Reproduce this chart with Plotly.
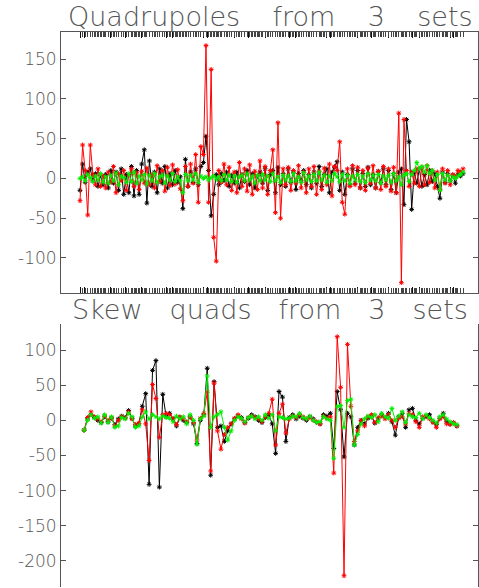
import plotly.graph_objects as go

# ---------------- data: Quadrupoles (top panel) ----------------
quad_black = [
    -15, 18, -5, 8, 12, -3, 6, -10, 4, -8,
    5, -12, 10, -6, 8, -15, 12, -20, 5, -18,
    15, -22, 10, -20, 18, 36, -31, 22, -10, 8,
    -18, 12, -6, 15, -12, 6, -8, 10, -5, 2,
    -38, 24, -10, 8, -5, 12, -8, 15, 20, 53,
    10, -47, -20, 5, -8, 6, -3, 8, -10, 4,
    -6, 8, -12, 5, -4, 10, -8, 6, -12, 3,
    8, -6, 12, -15, 5, 10, -18, 14, -8, 6,
    -10, 12, -5, 8, -14, 6, -3, 10, -8, 5,
    -12, 8, -6, 15, -10, 5, 12, -18, 8, 14,
    21, -15, 8, -20, 5, -8, 12, -6, 10, -12,
    6, -10, 14, -8, 5, -12, 9, -5, 12, -8,
    10, -14, 6, -18, 8, 12, -33, 74, 46, -39,
    8, -6, 12, -10, 5, -8, 10, -4, 6, -10,
    -25, 8, -5, 6, -3, 4, -6, 5, 3, 6,
]
quad_red = [
    -28, 42, 10, -46, 42, 5, -8, 12, -10, 3,
    -12, 8, -5, 15, -18, 6, -3, 10, -15, 4,
    12, -10, 7, -14, 9, -6, 13, -8, 5, -12,
    16, -4, 10, -16, 14, -9, 17, -7, 11, -13,
    -28, 15, -10, 18, -6, 30, -30, 40, 30, 167,
    -30, 137, -74, -104, 10, -5, 18, -8, 14, -15,
    8, -18, 20, -10, 12, -16, 17, -20, 9, -14,
    22, -12, 15, -20, 10, 36, -43, 70, -50, 12,
    -8, 14, -15, 10, -6, 16, -12, 8, -18, 12,
    -10, 15, -20, 9, -14, 13, -8, 18, -22, 15,
    10, 46, -30, -45, 12, -10, 16, -8, 14, -12,
    10, -15, 13, -6, 16, -12, 9, -14, 15, -10,
    12, -16, 14, -18, 82, -131, 74, 10, -10, 8,
    -6, 12, -10, 14, -8, 16, -5, 10, -12, 8,
    -14, 12, -6, 10, -8, 5, 2, 10, 8, 12,
]
quad_green = [
    0, 2, -3, 5, 1, -4, 3, -2, 6, -5,
    2, -6, 4, -3, 7, -8, 3, 1, -5, 6,
    -4, 8, -6, 3, -2, 5, -7, 4, -3, 6,
    -5, 2, 4, -6, 3, -2, 6, -4, 2, -3,
    -18, 5, -3, 4, -2, 6, -5, 3, 0, 2,
    -2, 1, 3, -1, 2, -3, 5, -2, 4, -4,
    3, -5, 2, 4, -3, 6, -2, 3, -6, 4,
    -3, 5, -2, 3, -4, 6, -3, 2, -5, 4,
    -2, 3, -4, 6, -3, 2, -5, 7, -2, 3,
    -4, 5, -3, 8, -2, 4, -5, 3, -3, 6,
    2, -4, 5, -3, 4, -6, 3, -2, 5, -4,
    3, -5, 6, -2, 4, -3, 5, -6, 3, -2,
    4, -5, 6, -3, 2, -8, 4, 6, -4, 5,
    10, 20, 12, 15, 8, 16, 6, 10, -2, 5,
    -15, 6, -2, 4, -3, 2, 0, 3, 5, 8,
]

# ---------------- data: Skew quads (bottom panel) ----------------
skew_black = [
    -14, 2, 8, 4, 0, -3, 5, -2, 3, -6,
    2, 6, 4, 14, 3, -8, -5, 20, 38, -91,
    71, 85, -95, 37, 5, 10, 2, -8, 4, 0,
    -3, 5, -5, -33, 0, 8, 74, -78, 55, -10,
    -8, -30, -15, -5, 2, 6, 4, -3, 3, 8,
    5, 0, -3, 4, 8, -5, -47, 41, 33, -30,
    4, 8, 2, 6, 3, 0, 5, 2, -3, -5,
    8, 6, 10, -40, 41, 15, -52, 10, 5, -35,
    -10, 0, -5, 3, 6, -4, 2, 8, 4, 10,
    -2, -21, 5, 10, -10, 15, 17, 0, -5, 3,
    5, 8, -2, -6, 3, 10, -2, -5, -4, -8,
]
skew_red = [
    -14, 4, 12, 5, 2, -2, 6, 0, 4, -8,
    0, 5, 3, 12, 2, -6, -4, 15, -5, -57,
    51, 31, -24, 8, 10, 8, 3, -6, 5, 2,
    -2, 4, -3, -28, 3, 10, 40, -72, 53, -15,
    -41, -20, -10, -5, 3, 8, 2, -4, 4, 6,
    4, 2, -2, 5, 10, 30, -35, 10, 23, -18,
    2, 6, 4, 8, 5, 2, 4, 0, -2, -5,
    6, 3, 5, -75, 119, 47, -221, 108, 20, -30,
    -15, 0, -8, 5, 8, -3, 4, 6, 2, 8,
    0, -10, 3, 5, -5, 10, 8, -2, -10, 5,
    6, 2, -3, -10, 2, 5, -5, -6, -3, -8,
]
skew_green = [
    -14, 0, 8, 3, 5, -4, 8, -3, 5, -10,
    -8, 4, 2, 10, 5, -10, -8, 5, 12, 2,
    8, 5, 2, 6, 4, 3, -2, 6, 2, 5,
    -5, 8, 0, -34, 2, 6, 63, -10, 5, 8,
    12, -10, -28, -15, 0, 5, 3, -2, 4, 6,
    2, 5, 0, 8, 3, 8, -15, 5, 4, 2,
    3, 6, 5, 10, 4, 2, 6, 0, -3, -2,
    5, 2, 0, -54, 20, 21, -10, 28, 30, -35,
    -20, -5, 2, 6, 4, 8, -2, 10, 5, 3,
    17, 0, 6, 12, -3, 8, 5, 4, 10, 2,
    8, 4, 0, -4, 5, 8, 2, -2, -5, -6,
]

quad_yticks = [150, 100, 50, 0, -50, -100]
skew_yticks = [100, 50, 0, -50, -100, -150, -200]
GAP1 = "\u2003\u2009"
GAP2 = "\u2003"
titles = ["Quadrupoles" + GAP1 + "from" + GAP1 + "3" + GAP1 + "sets",
          "Skew" + GAP2 + "quads" + GAP2 + "from" + GAP2 + "3" + GAP2 + "sets"]

W, H = 479, 588


def dx(a, b):
    return [a / W, b / W]


def dy(top, bot):
    return [1 - bot / H, 1 - top / H]


fig = go.Figure()
colors = ["#000000", "#ff0000", "#00ee00"]
for (ys_list, xa, ya) in [
    ([quad_black, quad_red, quad_green], "x", "y"),
    ([skew_black, skew_red, skew_green], "x2", "y2"),
]:
    for ys, col in zip(ys_list, colors):
        fig.add_trace(go.Scatter(
            x=list(range(len(ys))), y=ys, mode="lines+markers",
            line=dict(color=col, width=1),
            marker=dict(symbol="asterisk-open", size=4, line=dict(color=col, width=1)),
            xaxis=xa, yaxis=ya, showlegend=False, hoverinfo="skip",
        ))

axis_col = "#555555"
font = dict(family="DejaVu Sans", weight=200, size=17, color="#555555")


def xaxis(dom, n, lo, hi):
    return dict(
        domain=dom, range=[lo, hi], showline=True, linecolor=axis_col, linewidth=1,
        mirror="ticks", ticks="inside", ticklen=6, tickcolor="#111111", tickwidth=1,
        tickmode="array", tickvals=list(range(0, n, 12)), showticklabels=False,
        showgrid=False, zeroline=False,
        minor=dict(tickmode="array", tickvals=list(range(n)), ticks="inside",
                   ticklen=5, tickcolor="#444444", tickwidth=1, showgrid=False),
    )


def yaxis(dom, lo, hi, ticks):
    return dict(
        domain=dom, range=[lo, hi], showline=True, linecolor=axis_col, linewidth=1,
        mirror="ticks", ticks="inside", ticklen=5, tickcolor=axis_col,
        tickmode="array", tickvals=ticks, ticktext=[str(t) for t in ticks],
        tickfont=font, showgrid=False, zeroline=False,
    )


nq = len(quad_black)
ns = len(skew_black)
title_font = dict(family="DejaVu Sans", weight=200, size=27, color="#555555")
fig.update_layout(
    width=W, height=H, margin=dict(l=0, r=0, t=0, b=0),
    paper_bgcolor="white", plot_bgcolor="white",
    xaxis=xaxis(dx(61, 478), nq, -7.4, nq - 1 + 5.8),
    yaxis=yaxis(dy(32, 293), -144, 184, quad_yticks),
    xaxis2=xaxis(dx(66, 474), ns, -5.3, ns - 1 + 5.0),
    yaxis2=yaxis(dy(324, 587), -237, 137, skew_yticks),
    annotations=[
        dict(text=titles[0], x=270 / W, y=1 - 17 / H, xref="paper", yref="paper",
             showarrow=False, xanchor="center", yanchor="middle", font=title_font),
        dict(text=titles[1], x=270 / W, y=1 - 309 / H, xref="paper", yref="paper",
             showarrow=False, xanchor="center", yanchor="middle", font=title_font),
    ],
)

fig.write_html("out.html")
